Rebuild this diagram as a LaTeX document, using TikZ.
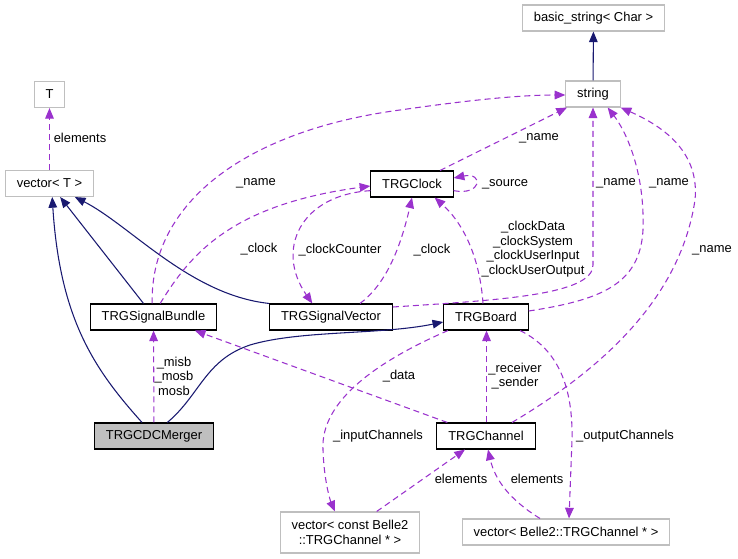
\documentclass[tikz,border=0pt]{standalone}
\usepackage{fontspec}
\setmainfont{Liberation Sans}
\usetikzlibrary{arrows.meta}
\definecolor{dxnavy}{HTML}{191970}
\definecolor{dxpurple}{HTML}{9A32CD}
\definecolor{dxgrey}{HTML}{BFBFBF}

\begin{document}
\begin{tikzpicture}[x=0.75pt,y=-0.75pt]

 	\tikzstyle{cls}=[rectangle, draw=black, line width=0.8pt, minimum height=19.5pt, inner xsep=8.5pt, font=\fontsize{9.7}{10.9}\selectfont]
 	\tikzstyle{ext}=[cls, draw=dxgrey]
 	\tikzstyle{cur}=[cls, fill=dxgrey]
 	\tikzstyle{lbl}=[inner sep=0pt, align=center, text=black, font=\fontsize{9.7}{10.9}\selectfont]
 	\tikzstyle{inh}=[-{Triangle[length=8pt,width=6.5pt]}, line width=0.8pt, dxnavy]
 	\tikzstyle{use}=[-{Triangle[length=8pt,width=6.5pt]}, line width=0.8pt, dash pattern=on 4.5pt off 3pt, dxpurple]

 	\useasboundingbox (0,0) rectangle (738,559);

 	% placement des classes
 	\node[ext] (bstr) at (593.5,18) {basic\_string< Char >};
 	\node[ext] (str) at (593,94) {string};
 	\node[ext] (T) at (49.5,94.5) {T};
 	\node[ext] (vecT) at (49.5,183.5) {vector< T >};
 	\node[cls] (clk) at (412,184) {TRGClock};
 	\node[cls] (sb) at (153.5,317) {TRGSignalBundle};
 	\node[cls] (sv) at (331,317) {TRGSignalVector};
 	\node[cls] (brd) at (486,317) {TRGBoard};
 	\node[cur] (mrg) at (154,436) {TRGCDCMerger};
 	\node[cls] (ch) at (486,436) {TRGChannel};
 	\node[ext, align=center, minimum height=30.75pt] (vin) at (350,532.5) {vector< const Belle2\\::TRGChannel * >};
 	\node[ext] (vout) at (566,532) {vector< Belle2::TRGChannel * >};

 	% heritage
 	\draw[inh] (str) -- (bstr);
 	\draw[inh] ([xshift=-9pt]mrg.north) .. controls (95,370) and (60,320) .. ([xshift=2pt]vecT.south);
 	\draw[inh] ([xshift=-7.5pt]sb.north) -- ([xshift=8pt]vecT.south);
 	\draw[inh] (sv.north west) .. controls (190,295) and (130,225) .. ([xshift=19pt]vecT.south);
 	\draw[inh] ([xshift=10pt]mrg.north) .. controls (200,395) and (205,360) .. (250,345) .. controls (300,330) and (380,335) .. ([yshift=-3.75pt]brd.west);

 	% membres
 	\draw[use] (vecT) -- (T) node[lbl] at (80,138) {elements};
 	\draw[use] (mrg) -- (sb) node[lbl] at (174,376) {\_misb\\\_mosb\\mosb};
 	\draw[use] ([xshift=-29pt]ch.north) -- ([xshift=31pt]sb.south) node[lbl] at (399,376) {\_data};
 	\draw[use] ([xshift=21.75pt]sv.north) .. controls (385,285) and (400,250) .. (clk.south) node[lbl] at (432,250) {\_clock};
 	\draw[use] ([xshift=5pt]sb.north) .. controls (190,255) and (230,205) .. ([yshift=-1.5pt]clk.west) node[lbl] at (259,249) {\_clock};
 	\draw[use] ([yshift=-5pt]clk.west) .. controls (300,195) and (275,250) .. ([xshift=-14pt]sv.north) node[lbl] at (340,250) {\_clockCounter};
 	\draw[use] ([xshift=-1pt]sb.north) .. controls (150,200) and (250,130) .. (400,110) .. controls (470,100) and (520,95) .. ([yshift=-0.75pt]str.west) node[lbl] at (256,183) {\_name};
 	\draw[use] ([xshift=21pt]clk.north) -- ([xshift=-19.5pt]str.south) node[lbl] at (539,138) {\_name};
 	\draw[use] ([yshift=-5pt]clk.east) .. controls (482,196) and (484,172) .. ([yshift=4.5pt]clk.east) node[lbl] at (505,184) {\_source};
 	\draw[use] ([yshift=7.5pt]sv.east) .. controls (500,300) and (593,295) .. (593,265) -- (str.south) node[lbl] at (616,183) {\_name};
 	\draw[use] ([yshift=4.5pt]brd.east) .. controls (600,300) and (640,285) .. (643,230) .. controls (645,170) and (625,130) .. ([xshift=11pt]str.south) node[lbl] at (669,183) {\_name};
 	\draw[use] ([xshift=19.5pt]ch.north) .. controls (600,370) and (680,300) .. (695,200) .. controls (700,150) and (660,125) .. (str.south east) node[lbl] at (712,250) {\_name};
 	\draw[use] ([xshift=-2.25pt]brd.north) .. controls (480,260) and (465,225) .. ([xshift=17pt]clk.south) node[lbl] at (533,249) {\_clockData\\\_clockSystem\\\_clockUserInput\\\_clockUserOutput};
 	\draw[use] ([xshift=0.4pt]ch.north) -- ([xshift=0.4pt]brd.south) node[lbl] at (515,376) {\_receiver\\\_sender};
 	\draw[use] ([xshift=-28.5pt]brd.south) .. controls (380,360) and (320,400) .. (323,450) .. controls (324,480) and (330,500) .. ([xshift=-11.25pt]vin.north) node[lbl] at (378,436) {\_inputChannels};
 	\draw[use] ([xshift=25.5pt]brd.south) .. controls (560,350) and (573,390) .. (572,440) -- ([xshift=2.25pt]vout.north) node[lbl] at (625,436) {\_outputChannels};
 	\draw[use] ([xshift=20pt]vin.north) -- ([xshift=-15.75pt]ch.south) node[lbl] at (461,479) {elements};
 	\draw[use] ([xshift=-19.5pt]vout.north) .. controls (510,500) and (495,480) .. ([xshift=1.5pt]ch.south) node[lbl] at (537,479) {elements};

\end{tikzpicture}
\end{document}
